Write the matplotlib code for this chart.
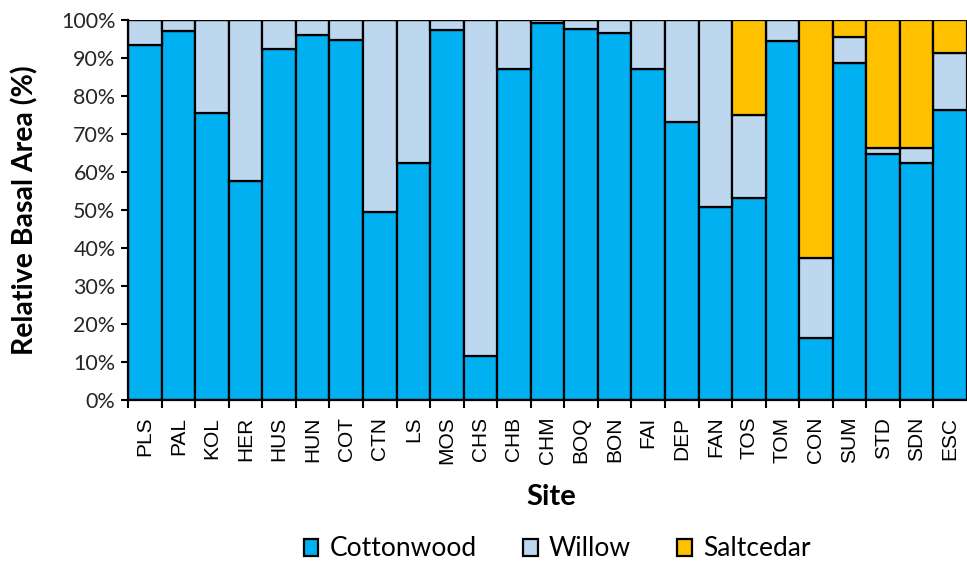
import numpy as np
import matplotlib
matplotlib.use("Agg")
import matplotlib.pyplot as plt
from matplotlib.ticker import PercentFormatter

sites = ["PLS", "PAL", "KOL", "HER", "HUS", "HUN", "COT", "CTN", "LS", "MOS",
         "CHS", "CHB", "CHM", "BOQ", "BON", "FAI", "DEP", "FAN", "TOS", "TOM",
         "CON", "SUM", "STD", "SDN", "ESC"]
cottonwood = [93.3, 97.0, 75.4, 57.7, 92.3, 96.0, 94.7, 49.6, 62.3, 97.4,
              11.6, 87.1, 99.1, 97.7, 96.7, 87.1, 73.2, 50.9, 53.2, 94.5,
              16.4, 88.6, 64.8, 62.5, 76.4]
saltcedar = [0, 0, 0, 0, 0, 0, 0, 0, 0, 0,
             0, 0, 0, 0, 0, 0, 0, 0, 25.0, 0,
             62.7, 4.4, 33.8, 33.8, 8.8]
willow = [100 - c - s for c, s in zip(cottonwood, saltcedar)]

colors = {"Cottonwood": "#00B0F0", "Willow": "#BDD7EE", "Saltcedar": "#FFC000"}
label_font = "Lato"

fig = plt.figure(figsize=(9.67, 5.64), dpi=100)
ax = fig.add_axes([0.1324, 0.2908, 0.8676, 0.6737])

x = np.arange(len(sites))
bottom = np.zeros(len(sites))
for name, vals in [("Cottonwood", cottonwood), ("Willow", willow), ("Saltcedar", saltcedar)]:
    vals = np.array(vals)
    ax.bar(x, vals, width=1.0, bottom=bottom, color=colors[name],
           edgecolor="black", linewidth=1.6, label=name)
    bottom += vals

ax.set_xlim(-0.5, len(sites) - 0.5)
ax.set_ylim(0, 100)
ax.set_yticks(np.arange(0, 101, 10))
ax.yaxis.set_major_formatter(PercentFormatter(decimals=0))
# boundary ticks between bars, labels centred on bars
ax.set_xticks(x - 0.5)
ax.set_xticklabels([""] * len(sites))
ax.set_xticks(x, minor=True)
ax.set_xticklabels(sites, minor=True, rotation=90, fontsize=15, family="Liberation Sans")
ax.tick_params(axis="x", which="minor", length=0, pad=12)
ax.tick_params(axis="x", which="major", length=6, width=1.5, direction="out")
ax.tick_params(axis="y", length=5, width=1.5, direction="out", labelsize=15.5, pad=4)
for lab in ax.get_yticklabels():
    lab.set_family(label_font)
    lab.set_color("#262626")

for side in ["top", "right"]:
    ax.spines[side].set_visible(False)
for side in ["left", "bottom"]:
    ax.spines[side].set_linewidth(1.6)

ax.set_ylabel("Relative Basal Area (%)", fontsize=20.5, fontweight="bold", family=label_font, va="center")
ax.yaxis.set_label_coords(-0.1228, 0.5)
ax.set_xlabel("Site", fontsize=21, fontweight="bold", family=label_font, va="center")
ax.xaxis.set_label_coords(0.504, -0.255)

fig.legend(loc="center", bbox_to_anchor=(0.576, 0.0266), ncol=3, frameon=False,
           prop={"family": label_font, "size": 19}, handlelength=0.56, handleheight=0.62,
           handletextpad=0.42, columnspacing=1.75, borderpad=0)

fig.savefig("out.png", dpi=100)
